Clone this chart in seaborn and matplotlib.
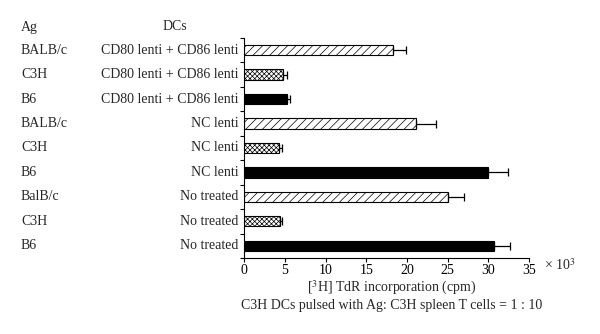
import matplotlib
matplotlib.use("Agg")
import matplotlib.pyplot as plt
import seaborn as sns
import pandas as pd
import numpy as np

ag = ["BALB/c", "C3H", "B6", "BALB/c", "C3H", "B6", "BalB/c", "C3H", "B6"]
dcs = ["CD80 lenti + CD86 lenti"] * 3 + ["NC lenti"] * 3 + ["No treated"] * 3
values = [18.3, 4.75, 5.2, 21.1, 4.3, 30.0, 25.0, 4.35, 30.7]
errors = [1.6, 0.5, 0.4, 2.4, 0.3, 2.4, 2.0, 0.35, 1.9]
kinds = ["hatch", "dots", "solid"] * 3
xticks = [0, 5, 10, 15, 20, 25, 30, 35]

sns.set_theme(style="ticks")
plt.rcParams["font.family"] = ["Liberation Serif", "DejaVu Serif"]
plt.rcParams["mathtext.fontset"] = "stix"
plt.rcParams["hatch.linewidth"] = 0.5

FS = 10

df = pd.DataFrame({"row": [str(i) for i in range(len(ag))], "val": values})

fig = plt.figure(figsize=(6.0, 3.34), dpi=100)
ax = fig.add_axes([0.407, 0.2275, 0.475, 0.659])

sns.barplot(data=df, x="val", y="row", orient="h", color="white",
            edgecolor="black", linewidth=0.8, width=0.42, ax=ax, errorbar=None)

for patch, k in zip(ax.patches, kinds):
    if k == "hatch":
        patch.set_facecolor("white")
        patch.set_hatch("////")
    elif k == "dots":
        patch.set_facecolor("white")
        patch.set_hatch("xxxxxxx")
    else:
        patch.set_facecolor("black")

ypos = np.arange(len(values))
ax.errorbar(values, ypos, xerr=[np.zeros(len(errors)), errors], fmt="none",
            ecolor="black", elinewidth=0.9, capsize=3, capthick=0.9)

ax.set_xlim(0, 35)
ax.set_ylim(len(values) - 0.5, -0.5)
ax.set_xticks(xticks)
ax.set_xticklabels([str(t) for t in xticks], fontsize=FS)
ax.set_yticks(np.arange(len(values) + 1) - 0.5)
ax.set_yticklabels([])
ax.tick_params(axis="both", direction="out", length=3, width=0.8, colors="black", pad=1.5)
ax.set_xlabel("")
ax.set_ylabel("")
for s in ["top", "right"]:
    ax.spines[s].set_visible(False)
for s in ["left", "bottom"]:
    ax.spines[s].set_color("black")
    ax.spines[s].set_linewidth(0.8)

# Row labels
x_ag = (21 / 600 - 0.407) / 0.475
for i, (a, d) in enumerate(zip(ag, dcs)):
    ax.text(x_ag, i, a, transform=ax.get_yaxis_transform(), ha="left",
            va="center", fontsize=FS)
    ax.text(-0.02, i, d, transform=ax.get_yaxis_transform(), ha="right",
            va="center", fontsize=FS)

fig.text(21 / 600, 1 - 27 / 334, "Ag", ha="left", va="center", fontsize=FS)
fig.text(175 / 600, 1 - 27 / 334, "DCs", ha="center", va="center", fontsize=FS)

fig.text(560 / 600, 1 - 265 / 334, r"× 10$^{3}$", ha="center", va="center",
         fontsize=FS)
fig.text(392 / 600, 1 - 288 / 334, r"[$^{3}$H] TdR incorporation (cpm)",
         ha="center", va="center", fontsize=FS)
fig.text(392 / 600, 1 - 305 / 334, "C3H DCs pulsed with Ag: C3H spleen T cells = 1 : 10",
         ha="center", va="center", fontsize=FS)

fig.savefig("out.png", dpi=100, facecolor="white")
